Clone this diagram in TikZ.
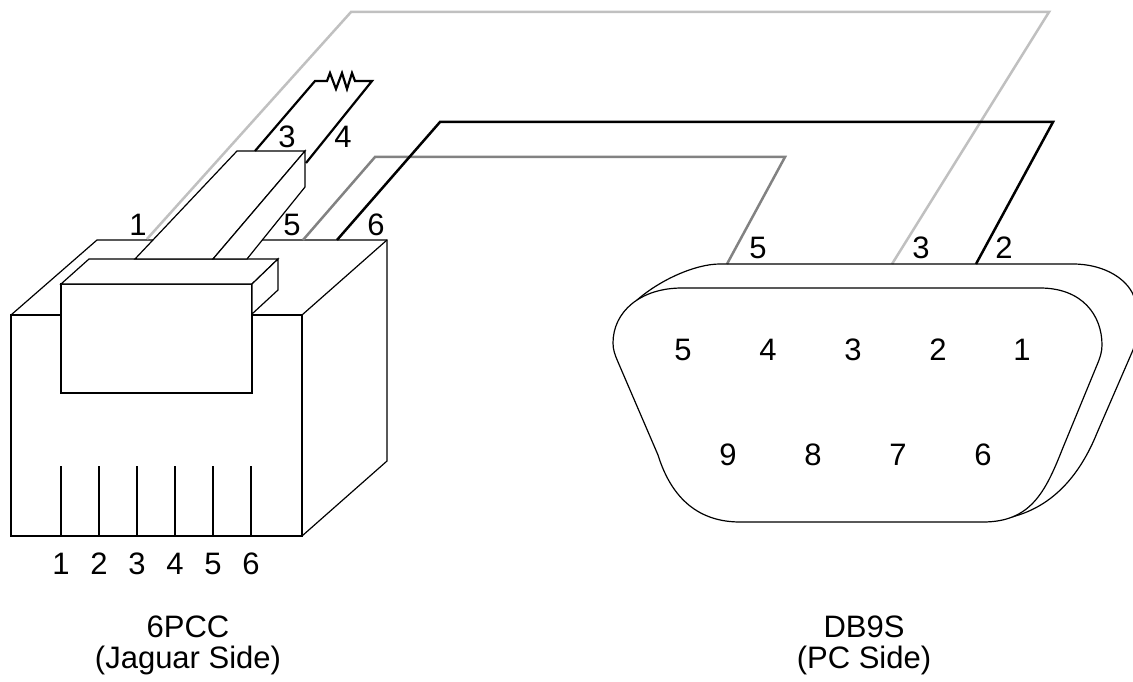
\documentclass[tikz,border=0pt]{standalone}
\usepackage{fontspec}
\setmainfont{Liberation Sans}
\begin{document}
\begin{tikzpicture}[x=1pt,y=-1pt,
  outline/.style={draw=black,line width=1.2pt,line join=miter,fill=white},
  wire/.style={line width=2.5pt,line join=miter},
  lightwire/.style={wire,draw={rgb,255:red,192;green,192;blue,192}},
  midwire/.style={wire,draw={rgb,255:red,130;green,130;blue,130}},
  blackwire/.style={wire,draw=black},
  pinline/.style={line width=2.2pt,draw=black},
  lbl/.style={font=\fontsize{31}{37}\selectfont,inner sep=0pt}]
\useasboundingbox (0,0) rectangle (1133,682);

% ---------- 6PCC main body ----------
\draw[outline] (11,315) -- (97,240) -- (387,240) -- (387,461) -- (302,536) -- (11,536) -- cycle;
\draw[outline] (11,315) rectangle (302,536);
\draw[outline] (302,315) -- (387,240);

% pins
\foreach \x/\n in {61/1,99/2,137/3,175/4,213/5,251/6}{
  \draw[pinline] (\x,466) -- (\x,536);
  \node[lbl] (pin\n) at (\x,564) {\n};
}

% ---------- wires behind ----------
\coordinate (w1a) at (147,239);
\coordinate (w1b) at (351,12);
\coordinate (w1c) at (1049,12);
\coordinate (w1d) at (892,264);
\draw[lightwire] (w1a) -- (w1b) -- (w1c) -- (w1d);

\coordinate (w5a) at (303,240);
\coordinate (w5b) at (375,157);
\coordinate (w5c) at (785,157);
\coordinate (w5d) at (727,264);
\draw[midwire] (w5a) -- (w5b) -- (w5c) -- (w5d);

\coordinate (w6a) at (337,240);
\coordinate (w6b) at (440,122);
\coordinate (w6c) at (1053,122);
\coordinate (w6d) at (976,264);
\draw[blackwire] (w6a) -- (w6b) -- (w6c) -- (w6d);

% ---------- tab ----------
\draw[outline] (61,284) rectangle (252,393);
\draw[outline] (61,284) -- (89,259) -- (278,259) -- (252,284) -- cycle;
\draw[outline] (252,284) -- (278,259) -- (278,290) -- (252,314) -- cycle;

% ---------- latch ----------
\draw[outline] (135,259) -- (237,151) -- (305,151) -- (213,259) -- cycle;
\draw[outline] (213,259) -- (305,151) -- (305,187) -- (247,259) -- cycle;

% ---------- wires 3/4 with resistor ----------
\coordinate (w3a) at (255,151);
\coordinate (w3b) at (315,81);
\coordinate (w4b) at (372,81);
\coordinate (w4a) at (306,163);
\draw[blackwire,line width=2.2pt] (w3a) -- (w3b) -- (327,81) -- (330,73) -- (336,89) -- (342,73) -- (347,89) -- (352,73) -- (355,81) -- (w4b) -- (w4a);

% labels at 6PCC wires
\node[lbl] (l1) at (138,225) {1};
\node[lbl] (l3) at (287,137) {3};
\node[lbl] (l4) at (343,137) {4};
\node[lbl] (l5) at (292,225) {5};
\node[lbl] (l6) at (376,225) {6};

% ---------- DB9 ----------
\draw[outline,fill=none] (637,300) .. controls (660,280) and (695,264) .. (720,264) -- (1073,264)
  .. controls (1105,264) and (1130,280) .. (1135,300)
  .. controls (1139,320) and (1138,337) .. (1133,350)
  -- (1097,433) .. controls (1080,475) and (1050,514) .. (995,520);
\draw[outline] (682,288) -- (1040,288) .. controls (1082,288) and (1102,315) .. (1102,345)
  .. controls (1102,352) and (1100,358) .. (1097,365)
  -- (1062,450) .. controls (1045,493) and (1030,522) .. (983,522)
  -- (740,522) .. controls (700,522) and (672,500) .. (658,455)
  -- (618,362) .. controls (615,355) and (613,350) .. (613,343)
  .. controls (613,312) and (640,288) .. (682,288) -- cycle;

\foreach \x/\n in {683/5,768/4,853/3,938/2,1022/1}{
  \node[lbl] (da\n) at (\x,350) {\n};
}
\foreach \x/\n in {728/9,813/8,898/7,983/6}{
  \node[lbl] (db\n) at (\x,455) {\n};
}

\node[lbl] (d5) at (758,248) {5};
\node[lbl] (d3) at (921,248) {3};
\node[lbl] (d2) at (1004,248) {2};

% ---------- captions ----------
\node[lbl,anchor=base] (c1) at (188,637) {6PCC};
\node[lbl,anchor=base] (c2) at (188,668) {(Jaguar Side)};
\node[lbl,anchor=base] (c3) at (864,637) {DB9S};
\node[lbl,anchor=base] (c4) at (864,668) {(PC Side)};
\end{tikzpicture}
\end{document}
